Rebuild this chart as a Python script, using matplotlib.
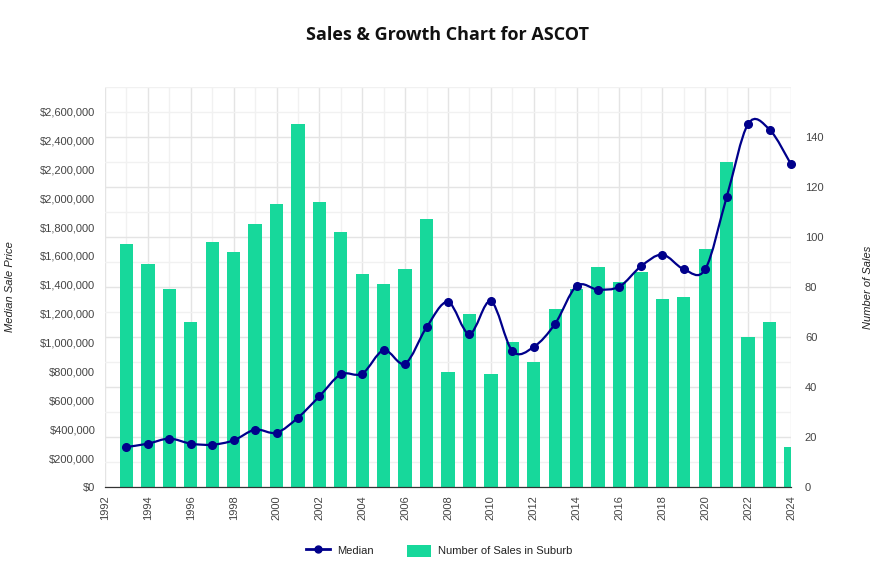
import matplotlib.pyplot as plt
from matplotlib.path import Path
from matplotlib.patches import PathPatch, Patch
from matplotlib.lines import Line2D
from matplotlib.ticker import FuncFormatter, MultipleLocator

# data
years = list(range(1993, 2025))
sales_count = [97, 89, 79, 66, 98, 94, 105, 113, 145, 114, 102, 85, 81, 87, 107, 46,
               69, 45, 58, 50, 71, 79, 88, 82, 86, 75, 76, 95, 130, 60, 66, 16]
median_price = [277000, 300000, 335000, 300000, 293000, 323000, 397000, 376000, 480000,
                628000, 780000, 785000, 947000, 855000, 1106000, 1281000, 1060000,
                1286000, 942000, 970000, 1131000, 1392000, 1367000, 1388000, 1528000,
                1609000, 1508000, 1508000, 2008000, 2514000, 2475000, 2235000]

line_color = "#00008b"
bar_color = "#17d89b"
text_color = "#444444"

plt.rcParams["font.family"] = ["Liberation Sans", "DejaVu Sans"]

fig = plt.figure(figsize=(8.78, 5.67), dpi=100)
ax1 = fig.add_axes([0.1196, 0.1411, 0.7813, 0.7055])
ax2 = ax1.twinx()
ax1.set_zorder(ax2.get_zorder() + 1)
ax1.patch.set_visible(False)

# bars on the right axis
ax2.bar(years, sales_count, width=0.62, color=bar_color, zorder=2)
ax2.set_ylim(0, 160)
ax2.set_yticks([0, 20, 40, 60, 80, 100, 120, 140])
ax2.yaxis.set_minor_locator(MultipleLocator(10))
ax2.set_axisbelow(True)
ax2.grid(True, which="major", color="#e4e4e4", lw=1)
ax2.grid(True, which="minor", color="#f1f1f1", lw=1)

# vertical grid lines live on the bar axes so they stay behind the bars
ax2.xaxis.set_visible(True)
ax2.tick_params(axis="x", labelbottom=False, labeltop=False)
ax2.set_xticks(range(1992, 2025, 2))
ax2.xaxis.set_minor_locator(MultipleLocator(1))
ax2.grid(True, which="major", axis="x", color="#e4e4e4", lw=1)
ax2.grid(True, which="minor", axis="x", color="#f1f1f1", lw=1)

# smooth line on the left axis, drawn as cubic bezier segments
pts = list(zip(years, median_price))
verts = [pts[0]]
codes = [Path.MOVETO]
for i in range(len(pts) - 1):
    p0 = pts[max(i - 1, 0)]
    p1 = pts[i]
    p2 = pts[i + 1]
    p3 = pts[min(i + 2, len(pts) - 1)]
    c1 = (p1[0] + (p2[0] - p0[0]) / 6, p1[1] + (p2[1] - p0[1]) / 6)
    c2 = (p2[0] - (p3[0] - p1[0]) / 6, p2[1] - (p3[1] - p1[1]) / 6)
    verts += [c1, c2, p2]
    codes += [Path.CURVE4] * 3
ax1.add_patch(PathPatch(Path(verts, codes), facecolor="none", edgecolor=line_color,
                        lw=1.6, zorder=3))
ax1.plot(years, median_price, "o", color=line_color, ms=5.5, zorder=4, clip_on=False)

ax1.set_xlim(1992, 2024)
ax1.set_ylim(0, 2770000)
ax1.set_yticks(range(0, 2600001, 200000))
ax1.yaxis.set_major_formatter(FuncFormatter(lambda v, p: "${:,.0f}".format(v)))
ax1.set_xticks(range(1992, 2025, 2))

fig.text(10 / 878, 1 - 287 / 567, "Median Sale Price", rotation=90, style="italic",
         fontsize=8, color="#222222", ha="center", va="center")
fig.text(868 / 878, 1 - 287 / 567, "Number of Sales", rotation=90, style="italic",
         fontsize=8, color="#222222", ha="center", va="center")

for ax in (ax1, ax2):
    for s in ("top", "left", "right"):
        ax.spines[s].set_visible(False)
    ax.spines["bottom"].set_color("#333333")
    ax.tick_params(which="both", length=0, labelsize=8, colors=text_color)
ax1.tick_params(axis="x", labelrotation=90, pad=6)
ax1.tick_params(axis="y", pad=7)
ax2.tick_params(axis="y", pad=10)

ax1.set_title("Sales & Growth Chart for ASCOT", fontsize=13, fontweight="bold",
              family="Open Sans", color="#111111", pad=34)

handles = [Line2D([], [], color=line_color, lw=2, marker="o", ms=5),
           Patch(facecolor=bar_color)]
fig.legend(handles, ["Median", "Number of Sales in Suburb"], loc="center",
           bbox_to_anchor=(0.5, 0.029), ncol=2, frameon=False, fontsize=8,
           handlelength=2.2, handleheight=1.3, columnspacing=3, handletextpad=0.6,
           labelcolor="#222222")

fig.savefig("out.png", dpi=100)
